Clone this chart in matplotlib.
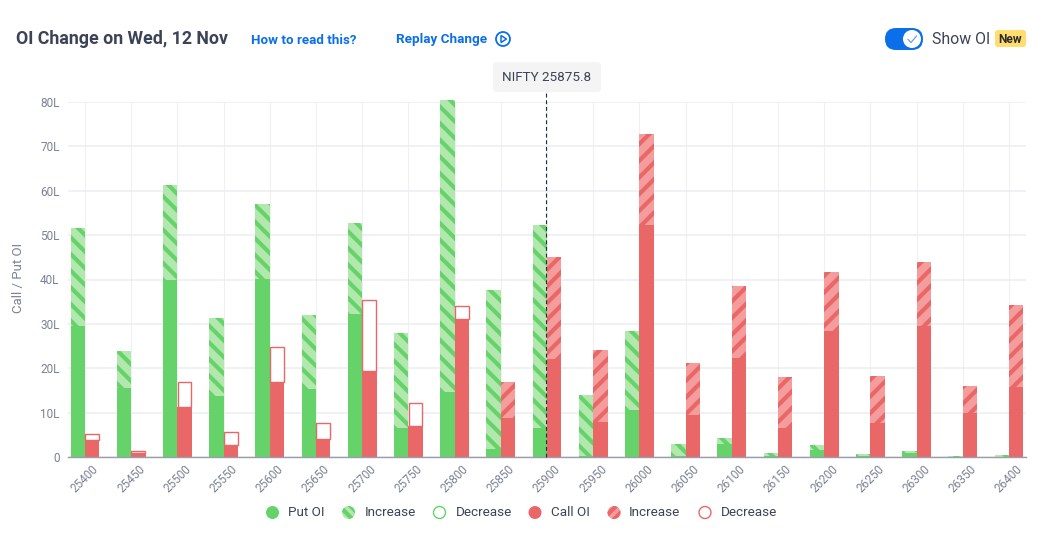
import matplotlib
matplotlib.use("Agg")
import matplotlib.pyplot as plt
from matplotlib.patches import Circle, FancyBboxPatch, Polygon
import numpy as np

plt.rcParams['font.family'] = ['Roboto', 'DejaVu Sans']
plt.rcParams['hatch.linewidth'] = 3.0

strikes = [25400, 25450, 25500, 25550, 25600, 25650, 25700, 25750, 25800, 25850, 25900,
           25950, 26000, 26050, 26100, 26150, 26200, 26250, 26300, 26350, 26400]
put_oi = [29.5, 15.5, 40.0, 13.7, 40.2, 15.3, 32.3, 6.5, 14.6, 1.8, 6.6,
          0.3, 10.5, 0.2, 3.0, 0.3, 1.6, 0.2, 0.9, 0.1, 0.1]
put_inc = [22.2, 8.5, 21.2, 17.7, 16.8, 16.7, 20.4, 21.4, 65.9, 35.9, 45.6,
           13.7, 17.8, 2.8, 1.2, 0.5, 1.1, 0.4, 0.4, 0.2, 0.4]
call_oi = [3.8, 0.9, 11.2, 2.6, 16.9, 4.1, 19.3, 7.0, 31.2, 8.7, 22.0,
           8.0, 52.3, 9.5, 22.4, 6.6, 28.3, 7.7, 29.6, 9.9, 15.7]
call_inc = [0, 0, 0, 0, 0, 0, 0, 0, 0, 8.2, 23.0,
            16.1, 20.4, 11.6, 16.2, 11.4, 13.3, 10.5, 14.4, 6.1, 18.5]
call_dec = [1.4, 0.4, 5.8, 3.0, 7.8, 3.6, 16.0, 5.1, 2.8, 0, 0,
            0, 0, 0, 0, 0, 0, 0, 0, 0, 0]
y_ticks = [0, 10, 20, 30, 40, 50, 60, 70, 80]
y_labels = ['0', '10L', '20L', '30L', '40L', '50L', '60L', '70L', '80L']

GREEN = '#65D36A'
GREEN_L = '#B2E8AE'
RED = '#EA6767'
RED_L = '#F59C9C'
BLUE = '#0A6FE8'
TEXT = '#3D4356'
GRAY = '#7C8194'
W, H = 1039, 537

fig = plt.figure(figsize=(W/100, H/100), dpi=100, facecolor='white')
ax = fig.add_axes([68/W, 1-457/H, (1026-68)/W, 355/H])

x = np.arange(len(strikes))
bw = 0.31

ax.bar(x-bw/2, put_oi, bw, color=GREEN, lw=0, zorder=3)
ax.bar(x-bw/2, put_inc, bw, bottom=put_oi, facecolor=GREEN_L, edgecolor=GREEN,
       hatch='\\\\', lw=0, zorder=3, clip_on=False)
ax.bar(x+bw/2, call_oi, bw, color=RED, lw=0, zorder=3)
ax.bar(x+bw/2, call_inc, bw, bottom=call_oi, facecolor=RED_L, edgecolor=RED,
       hatch='//', lw=0, zorder=3)
for i in x:
    if call_dec[i] > 0:
        ax.bar(x[i]+bw/2, call_dec[i], bw*0.96, bottom=call_oi[i], facecolor='white',
               edgecolor=RED, lw=1.0, zorder=3)

ax.set_xlim(-0.368, 20.368)
ax.set_ylim(0, 80)
ax.set_xticks(x)
ax.set_xticklabels(strikes, rotation=45, ha='center', fontsize=8.5, color=GRAY)
ax.set_yticks(y_ticks)
ax.set_yticklabels(y_labels, fontsize=8.5, color=GRAY)
ax.set_ylabel('Call / Put OI', fontsize=9.5, color=GRAY, labelpad=11, y=0.505)
ax.tick_params(length=0, pad=6)
ax.tick_params(axis='x', pad=4)
ax.grid(axis='y', color='#EBEDF1', lw=1.1, zorder=0)
ax.grid(axis='x', color='#F0F0F0', lw=0.8, zorder=0)
for s in ['top', 'right', 'left']:
    ax.spines[s].set_visible(False)
ax.spines['bottom'].set_color('#9A9EAC')
ax.spines['bottom'].set_linewidth(1.0)
ax.spines['bottom'].set_zorder(4)

# spot line sits on the nearest strike
ax.plot([9.975, 9.975], [0, 82.5], color='#1F2A44', lw=0.8, ls=(0, (3.5, 2.5)), zorder=5, clip_on=False)

# overlay in pixel coords for header and legend
ov = fig.add_axes([0, 0, 1, 1], zorder=6)
ov.set_xlim(0, W)
ov.set_ylim(H, 0)
ov.axis('off')
ov.patch.set_alpha(0)

ov.text(16, 39.5, 'OI Change on Wed, 12 Nov', fontsize=12.8, fontweight='bold', color=TEXT, va='center')
ov.text(251, 40.5, 'How to read this?', fontsize=9.6, fontweight='bold', color=BLUE, va='center')
ov.text(395.5, 39.5, 'Replay Change', fontsize=9.7, fontweight='bold', color=BLUE, va='center')
ov.add_patch(Circle((503, 39), 7, facecolor='none', edgecolor=BLUE, lw=1.3))
ov.add_patch(Polygon([(501, 35.5), (501, 42.5), (506.5, 39)], closed=True, facecolor='none', edgecolor=BLUE, lw=1.1))

ov.add_patch(FancyBboxPatch((497, 66), 100, 22, boxstyle='round,pad=4,rounding_size=4',
                            facecolor='#F4F4F4', edgecolor='none'))
ov.text(546.5, 77.5, 'NIFTY 25875.8', fontsize=9.7, color=TEXT, ha='center', va='center')

# toggle
ov.add_patch(FancyBboxPatch((896, 39), 16, 0.01, boxstyle='round,pad=11,rounding_size=11',
                            facecolor=BLUE, edgecolor='none'))
ov.add_patch(Circle((912, 39), 9, facecolor='white', edgecolor='none'))
ov.plot([908, 911, 916.5], [39.5, 42.5, 36], color='#6E9FE0', lw=0.9)
ov.text(932.5, 39.5, 'Show OI', fontsize=11.4, color=TEXT, va='center')
ov.add_patch(FancyBboxPatch((998, 33), 25, 11, boxstyle='round,pad=3,rounding_size=3',
                            facecolor='#FFDD6E', edgecolor='none'))
ov.text(1010.5, 39.5, 'New', fontsize=8.6, fontweight='bold', color='#2B2B2B', ha='center', va='center')

# legend
ly = 512.5
ov.add_patch(Circle((272.5, ly), 6.5, facecolor=GREEN, edgecolor='none'))
ov.add_patch(Circle((348.5, ly), 6.5, facecolor=GREEN_L, edgecolor=GREEN, hatch='\\\\\\', lw=0))
ov.add_patch(Circle((439.5, ly), 6, facecolor='white', edgecolor=GREEN, lw=1.0))
ov.add_patch(Circle((535, ly), 6.5, facecolor=RED, edgecolor='none'))
ov.add_patch(Circle((614, ly), 6.5, facecolor=RED_L, edgecolor=RED, hatch='///', lw=0))
ov.add_patch(Circle((705, ly), 6, facecolor='white', edgecolor=RED, lw=1.0))
for tx, lab in zip([288, 364.5, 455.5, 551, 629, 720.5],
                   ['Put OI', 'Increase', 'Decrease', 'Call OI', 'Increase', 'Decrease']):
    ov.text(tx, ly+0.3, lab, fontsize=9.7, color=TEXT, va='center')

fig.savefig('out.png', dpi=100, facecolor='white')
